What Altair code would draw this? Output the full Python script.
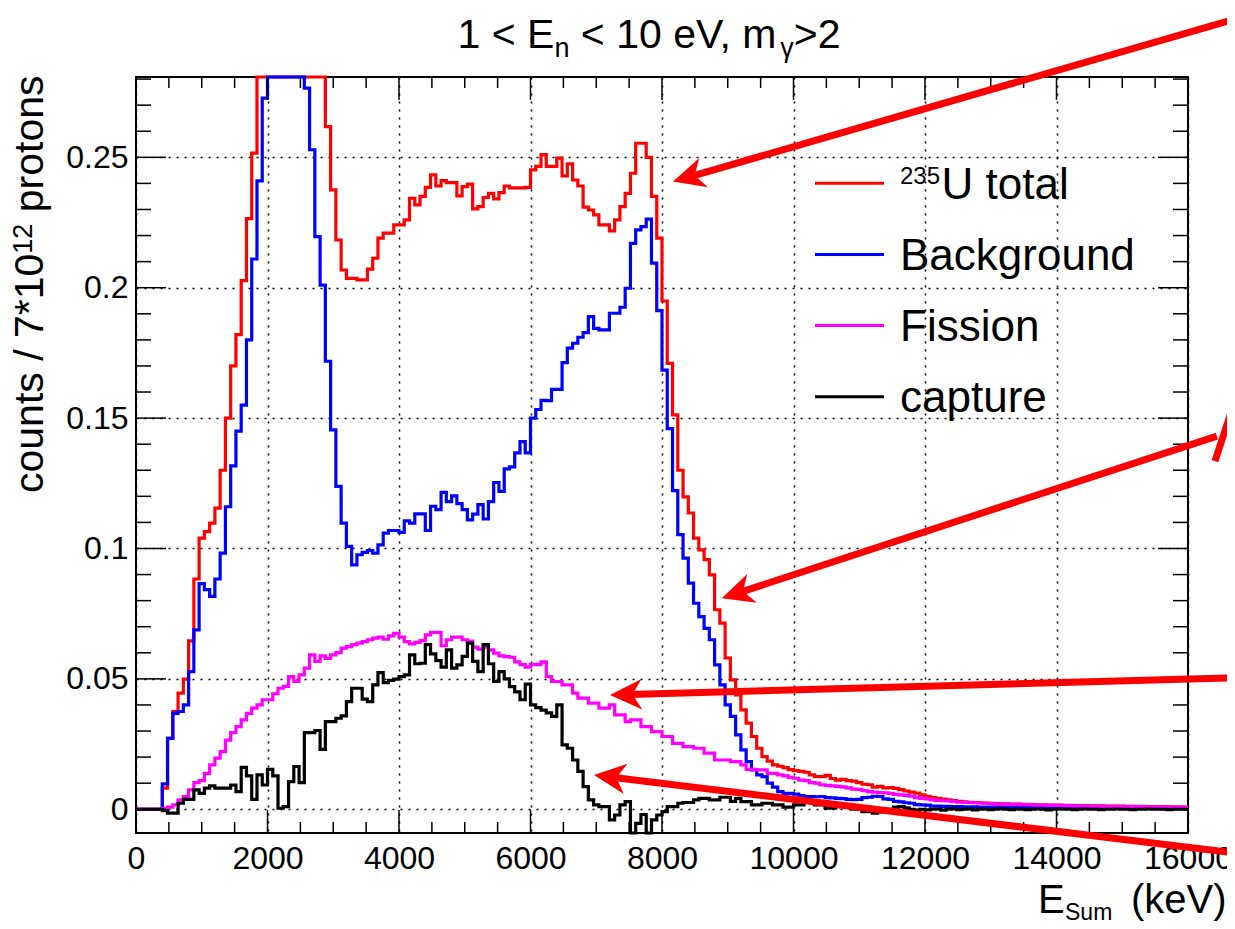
import math
import altair as alt
import pandas as pd

# ---------------- data (bin contents, 80 keV bins from 0 to 16000 keV) ----------------
BIN_WIDTH = 80

total = [
    0, 0, 0, 0, 0, 0.0081, 0.0272, 0.0375, 0.0445, 0.0499,
    0.0646, 0.0883, 0.104, 0.1065, 0.1097, 0.1155, 0.130, 0.150, 0.170, 0.182,
    0.2027, 0.2265, 0.2516, 0.29, 0.32, 0.35, 0.37, 0.38, 0.37, 0.36,
    0.35, 0.33, 0.31, 0.30, 0.29, 0.285, 0.2618, 0.2375, 0.2183, 0.2068,
    0.2036, 0.2036, 0.203, 0.203, 0.2071, 0.2113, 0.219, 0.2209, 0.2209, 0.2241,
    0.2241, 0.226, 0.2343, 0.2318, 0.235, 0.2385, 0.2433, 0.239, 0.2411, 0.2403,
    0.2403, 0.2352, 0.2388, 0.2397, 0.2302, 0.2311, 0.2346, 0.2362, 0.2341, 0.2365,
    0.239, 0.2383, 0.2383, 0.2383, 0.2385, 0.2452, 0.2465, 0.251, 0.2465, 0.2465,
    0.2497, 0.2429, 0.2475, 0.2413, 0.239, 0.2309, 0.2298, 0.2279, 0.2241, 0.2241,
    0.2218, 0.226, 0.2311, 0.2362, 0.2439, 0.2554, 0.2554, 0.25, 0.235, 0.219,
    0.1949, 0.171, 0.1512, 0.130, 0.1198, 0.1136, 0.104, 0.0995, 0.0957, 0.0899,
    0.0765, 0.0714, 0.058, 0.0496, 0.0439, 0.0381, 0.033, 0.0279, 0.0234, 0.0202,
    0.0185, 0.017, 0.0165, 0.016, 0.0152, 0.0148, 0.0145, 0.0142, 0.0132, 0.0125,
    0.0125, 0.013, 0.0118, 0.0112, 0.0115, 0.011, 0.0108, 0.0102, 0.0096, 0.0094,
    0.0085, 0.0088, 0.0082, 0.0083, 0.008, 0.0075, 0.007, 0.0066, 0.0062, 0.0055,
    0.005, 0.0045, 0.0042, 0.0039, 0.0036, 0.0033, 0.003, 0.0028, 0.0027, 0.0026,
    0.0025, 0.0024, 0.0023, 0.0022, 0.0021, 0.0021, 0.002, 0.002, 0.0019, 0.0019,
    0.0018, 0.0017, 0.0017, 0.0016, 0.0016, 0.0016, 0.0015, 0.0015, 0.0014, 0.0014,
    0.0014, 0.0013, 0.0013, 0.0013, 0.0012, 0.0012, 0.0012, 0.0012, 0.0011, 0.0011,
    0.0011, 0.0011, 0.001, 0.001, 0.001, 0.001, 0.0009, 0.0009, 0.0009, 0.0008,
]

background = [
    0, 0, 0, 0, 0, 0.0097, 0.0272, 0.0368, 0.0375, 0.040,
    0.0528, 0.0688, 0.0865, 0.0842, 0.0816, 0.0883, 0.0982, 0.116, 0.1317, 0.145,
    0.155, 0.18, 0.211, 0.241, 0.2727, 0.30, 0.33, 0.34, 0.33, 0.32,
    0.30, 0.285, 0.2765, 0.2529, 0.2196, 0.201, 0.1718, 0.1455, 0.1238, 0.1097,
    0.1008, 0.0937, 0.0976, 0.0985, 0.0992, 0.0982, 0.1014, 0.1059, 0.1069, 0.1069,
    0.1062, 0.1106, 0.1097, 0.1133, 0.1133, 0.1069, 0.1162, 0.1149, 0.1215, 0.118,
    0.1202, 0.1172, 0.1149, 0.111, 0.1132, 0.1168, 0.1113, 0.118, 0.1253, 0.1219,
    0.1305, 0.1313, 0.1367, 0.141, 0.1367, 0.15, 0.1533, 0.1568, 0.1567, 0.161,
    0.161, 0.1713, 0.1768, 0.1787, 0.181, 0.1828, 0.1889, 0.1844, 0.1838, 0.1838,
    0.1902, 0.1902, 0.1925, 0.1998, 0.217, 0.2222, 0.2234, 0.2263, 0.2094, 0.1912,
    0.1684, 0.146, 0.1222, 0.1053, 0.0963, 0.0867, 0.079, 0.0739, 0.0694, 0.065,
    0.0554, 0.0477, 0.040, 0.0356, 0.0285, 0.0228, 0.0183, 0.0151, 0.0132, 0.0125,
    0.010, 0.0085, 0.0068, 0.0061, 0.0061, 0.0058, 0.0052, 0.0049, 0.0049, 0.0048,
    0.0049, 0.0045, 0.0044, 0.0042, 0.0041, 0.0038, 0.0037, 0.0038, 0.0045, 0.0046,
    0.005, 0.0049, 0.004, 0.0038, 0.003, 0.0028, 0.0025, 0.0023, 0.0018, 0.0017,
    0.0016, 0.0012, 0.0012, 0.0011, 0.0011, 0.001, 0.001, 0.0009, 0.0009, 0.0009,
    0.0008, 0.0008, 0.0008, 0.0008, 0.0007, 0.0007, 0.0007, 0.0007, 0.0006, 0.0006,
    0.0006, 0.0006, 0.0006, 0.0005, 0.0005, 0.0005, 0.0005, 0.0005, 0.0005, 0.0004,
    0.0004, 0.0004, 0.0004, 0.0004, 0.0004, 0.0004, 0.0003, 0.0003, 0.0003, 0.0003,
    0.0003, 0.0003, 0.0003, 0.0003, 0.0003, 0.0002, 0.0002, 0.0002, 0.0002, 0.0002,
]

fission = [
    0, 0, 0, 0, 0, 0.0004, 0.0008, 0.0017, 0.0036, 0.0049,
    0.0074, 0.0102, 0.011, 0.0138, 0.017, 0.0196, 0.0221, 0.0265, 0.0294, 0.0317,
    0.0343, 0.0368, 0.0388, 0.040, 0.042, 0.042, 0.0443, 0.0464, 0.0471, 0.0509,
    0.049, 0.0515, 0.0541, 0.0592, 0.0567, 0.0588, 0.0579, 0.0592, 0.0601, 0.0618,
    0.0624, 0.0631, 0.0637, 0.0643, 0.065, 0.0656, 0.066, 0.0652, 0.0665, 0.0675,
    0.066, 0.0643, 0.0634, 0.064, 0.0647, 0.0669, 0.0678, 0.0678, 0.0627, 0.065,
    0.066, 0.066, 0.065, 0.0645, 0.0622, 0.0614, 0.0622, 0.0611, 0.0599, 0.0588,
    0.0585, 0.0583, 0.0565, 0.0555, 0.0545, 0.0556, 0.0555, 0.0565, 0.0509, 0.049,
    0.049, 0.0477, 0.0477, 0.0445, 0.0426, 0.0426, 0.0407, 0.0407, 0.0388, 0.0388,
    0.040, 0.0362, 0.0362, 0.0336, 0.0343, 0.0343, 0.0317, 0.0317, 0.0298, 0.0298,
    0.0279, 0.0279, 0.0253, 0.0253, 0.024, 0.024, 0.0234, 0.0234, 0.0215, 0.0215,
    0.0189, 0.0189, 0.0189, 0.0183, 0.0183, 0.017, 0.0153, 0.0153, 0.0151, 0.0151,
    0.0138, 0.0138, 0.0132, 0.0128, 0.0122, 0.0119, 0.0112, 0.011, 0.0102, 0.010,
    0.0094, 0.0092, 0.009, 0.0088, 0.0086, 0.0082, 0.0077, 0.0076, 0.0072, 0.0068,
    0.0066, 0.0064, 0.0063, 0.0061, 0.0057, 0.0055, 0.0053, 0.005, 0.0045, 0.0042,
    0.004, 0.0036, 0.0034, 0.0033, 0.0032, 0.003, 0.0027, 0.0026, 0.0026, 0.0025,
    0.0024, 0.0023, 0.0022, 0.0021, 0.002, 0.002, 0.0019, 0.0019, 0.0018, 0.0018,
    0.0017, 0.0016, 0.0016, 0.0015, 0.0015, 0.0015, 0.0014, 0.0014, 0.0013, 0.0013,
    0.0013, 0.0012, 0.0012, 0.0012, 0.0011, 0.0011, 0.0011, 0.0011, 0.001, 0.001,
    0.001, 0.001, 0.0009, 0.0009, 0.0009, 0.0009, 0.0008, 0.0008, 0.0008, 0.0007,
]

capture = [
    0, 0, 0, 0, 0, -0.0005, -0.0015, -0.0015, 0.0023, 0.0038,
    0.0038, 0.0074, 0.0061, 0.0081, 0.009, 0.0081, 0.0081, 0.0081, 0.0093, 0.0068,
    0.0161, 0.0128, 0.0038, 0.0132, 0.0093, 0.0153, 0.0128, 0.0004, 0.001, 0.0106,
    0.0164, 0.0102, 0.0294, 0.0294, 0.0302, 0.023, 0.0336, 0.0336, 0.0349, 0.0358,
    0.0413, 0.0464, 0.0464, 0.0422, 0.0413, 0.0477, 0.0524, 0.0486, 0.0494, 0.0499,
    0.0509, 0.0515, 0.0592, 0.0558, 0.056, 0.0631, 0.0596, 0.057, 0.0545, 0.0611,
    0.0541, 0.0554, 0.0586, 0.0637, 0.0567, 0.0528, 0.0631, 0.0558, 0.049, 0.0528,
    0.050, 0.047, 0.045, 0.042, 0.048, 0.040, 0.039, 0.038, 0.037, 0.0356,
    0.040, 0.0247, 0.0234, 0.0189, 0.0145, 0.0087, 0.0036, 0.0017, 0.001, 0.001,
    -0.0041, -0.0022, 0.0017, 0.0029, -0.0095, -0.0054, -0.002, -0.0095, -0.0041, -0.0022,
    -0.0009, 0.001, 0.001, 0.0023, 0.0026, 0.0026, 0.0036, 0.0042, 0.0042, 0.0036,
    0.0036, 0.0046, 0.0046, 0.003, 0.0042, 0.0029, 0.0029, 0.0017, 0.0017, 0.0023,
    0.0023, 0.0017, 0.0017, 0.0008, 0.0008, 0.0017, 0.0017, 0.0026, 0.0026, 0.0017,
    0.0017, 0.0004, 0.0004, 0.001, 0.001, 0.001, 0.0, 0.0, -0.0009, -0.0009,
    -0.0015, -0.001, -0.0005, 0.0, 0.0008, 0.001, 0.0005, 0.0, -0.0003, 0.0,
    -0.0002, 0.0, 0.0001, -0.0003, 0.0, 0.0002, -0.0001, 0.0, 0.0001, -0.0002,
    0.0, 0.0001, -0.0001, 0.0, 0.0002, 0.0, -0.0001, 0.0001, 0.0, -0.0001,
    0.0, 0.0001, 0.0, -0.0002, 0.0, 0.0001, 0.0, 0.0, -0.0001, 0.0,
    0.0001, 0.0, 0.0, -0.0001, 0.0, 0.0, 0.0001, 0.0, 0.0, -0.0001,
    0.0, 0.0, 0.0001, 0.0, 0.0, 0.0, -0.0001, 0.0, 0.0, 0.0,
]

series_names = ["235U total", "Background", "Fission", "capture"]
series_values = [total, background, fission, capture]

x_tick_labels = list(range(0, 16001, 2000))
y_tick_labels = [0, 0.05, 0.1, 0.15, 0.2, 0.25]
x_minor = [v for v in range(0, 16001, 500) if v % 2000 != 0]
y_minor = [round(k * 0.01, 2) for k in range(0, 29) if k % 5 != 0]

# annotation arrows (data coordinates: keV, counts)
arrow_tail_x = [16790, 16440, 16790, 16790]
arrow_tail_y = [0.3036, 0.1431, 0.0505, -0.0170]
arrow_tip_x = [8167, 8908, 7209, 6966]
arrow_tip_y = [0.2407, 0.0809, 0.0438, 0.0131]
kink_x = [16410, 16790]
kink_y = [0.1335, 0.1625]

# ---------------- layout / style ----------------
X_MAX = 16000
Y_MIN, Y_MAX = -0.0091, 0.2808
W, H = 1052, 756
OX, OY = 136, 77  # page position of plot origin
FONT = "Liberation Sans"
COLORS = ["#ff0000", "#0000ff", "#ff00ff", "#000000"]
ARROW_RED = "#ff0000"

XS = alt.Scale(domain=[0, X_MAX], nice=False, zero=False)
YS = alt.Scale(domain=[Y_MIN, Y_MAX], nice=False, zero=False)

GRID = dict(grid=True, gridDash=[2, 6], gridColor="black", gridOpacity=1, gridWidth=1.5)
X_AXIS = alt.Axis(values=x_tick_labels, format="d", labelFontSize=32, labelFont=FONT,
                  labelColor="black", labelPadding=10, ticks=False, tickSize=0, domain=False,
                  title=None, labelFlush=False, labelOverlap=False, **GRID)
Y_AXIS = alt.Axis(values=y_tick_labels, format="~g", labelFontSize=32, labelFont=FONT,
                  labelColor="black", labelPadding=8, ticks=False, tickSize=0, domain=False,
                  title=None, labelOverlap=False, **GRID)

def xenc(f):
    return alt.X(f, type="quantitative", scale=XS, axis=X_AXIS)

def yenc(f):
    return alt.Y(f, type="quantitative", scale=YS, axis=Y_AXIS)

layers = []

# histogram step lines
for name, vals, col in zip(series_names, series_values, COLORS):
    xs = [i * BIN_WIDTH for i in range(len(vals))] + [len(vals) * BIN_WIDTH]
    ys = list(vals) + [vals[-1]]
    df = pd.DataFrame({"x": xs, "y": ys, "series": name})
    layers.append(
        alt.Chart(df).transform_calculate(
            yc=f"clamp(datum.y, {Y_MIN}, {Y_MAX})"
        ).mark_line(interpolate="step-after", strokeWidth=3.2, color=col).encode(
            x=xenc("x"), y=yenc("yc")
        )
    )

# inward ticks on all four sides
def xticks(vals, length):
    d = pd.DataFrame({"t": vals})
    bot = alt.Chart(d).mark_rule(color="black", strokeWidth=1.5).encode(
        x=xenc("t"), y=alt.value(H), y2=alt.value(H - length))
    top = alt.Chart(d).mark_rule(color="black", strokeWidth=1.5).encode(
        x=xenc("t"), y=alt.value(0), y2=alt.value(length))
    return [bot, top]

def yticks(vals, length):
    d = pd.DataFrame({"t": vals})
    left = alt.Chart(d).mark_rule(color="black", strokeWidth=1.5).encode(
        y=yenc("t"), x=alt.value(0), x2=alt.value(length))
    right = alt.Chart(d).mark_rule(color="black", strokeWidth=1.5).encode(
        y=yenc("t"), x=alt.value(W), x2=alt.value(W - length))
    return [left, right]

layers += xticks(x_tick_labels, 23) + xticks(x_minor, 11)
layers += yticks(y_tick_labels, 30) + yticks(y_minor, 15)

DUMMY = pd.DataFrame({"a": [0]})

def text_piece(txt, px, py, fs, angle=0):
    kw = dict(text=txt, font=FONT, fontSize=fs, align="left", baseline="alphabetic", color="black")
    if angle:
        kw["angle"] = angle
    return alt.Chart(DUMMY).mark_text(**kw).encode(x=alt.value(px - OX), y=alt.value(py - OY))

# Liberation Sans (Arial metric) advance widths, 1/1000 em
AW = {" ": 278, "<": 584, ">": 584, "E": 667, "n": 556, "e": 556, "V": 667, ",": 278, "m": 833,
      "\u03b3": 500, "S": 667, "u": 556, "(": 333, ")": 333, "k": 500, "c": 500, "o": 556,
      "t": 278, "s": 500, "/": 278, "*": 389, "p": 556, "r": 333, "U": 722, "a": 556, "l": 222}

def tw(s, fs):
    return sum(AW.get(c, 556) for c in s) * fs / 1000.0

def lead(s):
    """split leading spaces off a piece (SVG drops them) -> (advance, visible text)"""
    n = len(s) - len(s.lstrip(" "))
    return n, s.lstrip(" ")

# title: 1 < E_n < 10 eV, m_gamma>2
T_MAIN, T_SUB = 41, 27
T_BASE, T_SUBBASE = 48, 57
title_parts = [("1 < E", T_MAIN, T_BASE), ("n", T_SUB, T_SUBBASE), (" < 10 eV, m", T_MAIN, T_BASE),
               ("\u03b3", T_SUB, T_SUBBASE), (">2", T_MAIN, T_BASE)]
tot_w = sum(tw(s, f) for s, f, _ in title_parts)
cx = 649 - tot_w / 2
for s, f, b in title_parts:
    n, vis = lead(s)
    layers.append(text_piece(vis, cx + tw(" " * n, f), b, f))
    cx += tw(s, f)

# y-axis title (rotated): counts / 7*10^12 protons
Y_FS, Y_SUP = 41, 27
yy = 493
for s, f, bx in [("counts / 7*10", Y_FS, 43), ("12", Y_SUP, 32), (" protons", Y_FS, 43)]:
    n, vis = lead(s)
    layers.append(text_piece(vis, bx, yy - tw(" " * n, f), f, angle=270))
    yy -= tw(s, f)

# x-axis title: E_Sum (keV)
layers.append(text_piece("E", 1038, 913, 40))
layers.append(text_piece("Sum", 1065, 920, 23))
layers.append(text_piece("(keV)", 1131, 913, 40))

# legend
LEG_LINE_Y = [183.3, 254.5, 325.6, 396.7]
for i, (name, col) in enumerate(zip(series_names, COLORS)):
    ly = LEG_LINE_Y[i]
    layers.append(alt.Chart(DUMMY).mark_rule(color=col, strokeWidth=3).encode(
        x=alt.value(815 - OX), x2=alt.value(884 - OX), y=alt.value(ly - OY)))
    if i == 0:
        layers.append(text_piece("235", 900, ly + 1, 24))
        layers.append(text_piece("U total", 900 + tw("235", 24) + 1.5, ly + 15.5, 44))
    else:
        layers.append(text_piece(name, 900, ly + 15.5, 44))

# arrows
SX = W / X_MAX
SY = H / (Y_MAX - Y_MIN)
HEAD_BACK = 20.0
shaft_rows, head_rows = [], []
for tx, ty, hx, hy in zip(arrow_tail_x, arrow_tail_y, arrow_tip_x, arrow_tip_y):
    dxp = (hx - tx) * SX
    dyp = -(hy - ty) * SY
    lp = math.hypot(dxp, dyp)
    ang = math.degrees(math.atan2(dyp, dxp)) % 360
    f = HEAD_BACK / lp
    ex = hx + (tx - hx) * f
    ey = hy + (ty - hy) * f
    shaft_rows.append({"x1": tx, "y1": ty, "x2": ex, "y2": ey})
    head_rows.append({"hx": hx, "hy": hy, "ang": ang})
shaft_rows.append({"x1": kink_x[0], "y1": kink_y[0], "x2": kink_x[1], "y2": kink_y[1]})

layers.append(alt.Chart(pd.DataFrame(shaft_rows)).mark_rule(
    color=ARROW_RED, strokeWidth=7, strokeCap="butt").encode(
    x=xenc("x1"), y=yenc("y1"), x2="x2:Q", y2="y2:Q"))

HEAD_PATH = "M0,0L-2.2,-1.05L-1.55,0L-2.2,1.05Z"
layers.append(alt.Chart(pd.DataFrame(head_rows)).mark_point(
    shape=HEAD_PATH, filled=True, size=841, color=ARROW_RED, opacity=1, strokeWidth=0).encode(
    x=xenc("hx"), y=yenc("hy"), angle=alt.Angle("ang:Q", scale=None)))

chart = alt.layer(*layers).properties(
    width=W, height=H,
    autosize=alt.AutoSizeParams(type="none"),
    padding={"left": 128, "top": 69, "right": 39, "bottom": 88},
    background="white",
).configure_view(stroke="black", strokeWidth=2)

chart.save("out.html", embed_options={"renderer": "svg", "actions": False})
